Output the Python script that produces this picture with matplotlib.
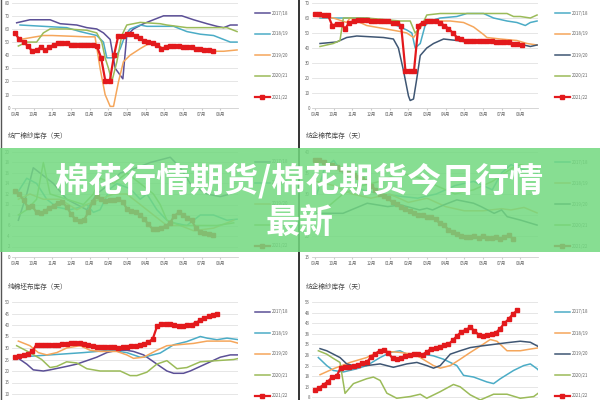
import matplotlib
matplotlib.use('Agg')
import matplotlib.pyplot as plt
import numpy as np
from matplotlib.patches import Rectangle

plt.rcParams['font.family'] = ['Noto Sans CJK SC', 'DejaVu Sans']

# ---- labels ----
months = ['09月', '10月', '11月', '12月', '01月', '02月', '03月', '04月', '05月', '06月', '07月', '08月']
seasons = ['2017/18', '2018/19', '2019/20', '2020/21', '2021/22']
title_ml = '纺厂棉纱库存（天）'
title_mr = '纺企棉花库存（天）'
title_bl = '纯棉坯布库存（天）'
title_br = '纺企棉纱库存（天）'
banner_line1 = '棉花行情期货/棉花期货今日行情'
banner_line2 = '最新'

# red series (2021/22) are weekly values; x step in months
week_step = 12 / 52

# ---- top left panel (0-80) ----
tl_1718_m = [0.09, 0.8, 1.88, 2.42, 3.31, 3.85, 4.38, 4.74, 5.1, 5.37, 5.78, 5.99, 6.35, 6.89, 7.42, 7.96, 8.94, 9.57, 10.29, 10.82, 11.18, 11.54, 11.9]
tl_1718_v = [64.7, 67, 67, 64, 63, 61, 60, 57, 52, 30, 22, 55, 60, 64, 67, 70, 70, 67, 64, 62, 61, 63, 63]
tl_1819_m = [0.27, 1.52, 2.77, 3.49, 4.38, 4.74, 4.92, 5.37, 5.64, 5.9, 6.17, 6.71, 7.07, 8.5, 9.21, 9.93, 10.64, 11.18, 11.54, 11.9]
tl_1819_v = [63, 62, 61, 58, 55, 50, 38, 38, 45, 55, 60, 63, 62, 62, 58, 56, 55, 52, 50, 50]
tl_1920_m = [0.27, 1.52, 2.0, 3.85, 4.29, 4.56, 4.83, 5.1, 5.28, 5.55, 5.81, 6.17, 6.71, 7.07, 7.42, 7.96, 8.14, 9.21, 9.93, 10.64, 11.18, 11.9]
tl_1920_v = [52, 55, 55, 54, 54, 30, 10, 1, 1, 20, 35, 40, 45, 48, 50, 45, 47, 47, 45, 43, 43, 44]
tl_2021_m = [0.18, 0.63, 1.16, 1.52, 1.88, 2.77, 3.85, 4.38, 4.65, 4.83, 5.01, 5.19, 5.46, 5.72, 5.99, 6.71, 7.78, 8.14, 8.68, 9.21, 10.29, 11.36, 11.9]
tl_2021_v = [47, 50, 50, 57, 60, 60, 59, 57, 50, 38, 30, 20, 35, 55, 63, 65, 64, 63, 62, 61, 61, 61, 58]
tl_2122 = [57, 52, 50, 47, 43, 44, 46, 44, 46, 48, 49, 49, 49, 48, 48, 48, 48, 48, 48, 47, 38, 20, 20, 40,
           55, 55, 56, 56, 55, 53, 51, 50, 49, 48, 45, 46, 47, 47, 47, 46, 46, 46, 45, 45, 44, 44, 43]

# ---- top right panel (0-70) ----
tr_1718_m = [0.27, 2.77, 3.67, 4.38, 4.92, 5.19, 5.37, 5.64, 5.9, 6.17, 6.71, 7.6, 8.14, 9.03, 9.57, 10.29, 10.82, 11.27, 11.54, 11.9]
tr_1718_v = [60, 60, 58, 55, 52, 50, 40, 43, 55, 58, 60, 61, 63, 63, 60, 58, 57, 55, 57, 58]
tr_1819_m = [0.18, 0.98, 1.7, 1.88, 2.77, 3.67, 4.56, 4.92, 5.28, 5.46, 5.72, 5.99, 7.25, 7.96, 8.5, 9.03, 9.21, 9.93, 10.82, 11.36, 11.9]
tr_1819_v = [61, 60, 57, 60, 55, 53, 51, 50, 47, 50, 55, 58, 58, 57, 54, 49, 47, 46, 45, 43, 42]
tr_1920_m = [0.27, 1.16, 1.7, 2.24, 3.67, 4.2, 4.47, 4.74, 5.01, 5.1, 5.28, 5.46, 5.64, 5.99, 6.35, 6.89, 7.6, 8.14, 8.86, 9.93, 10.64, 11.18, 11.54, 11.9]
tr_1920_v = [43, 44, 47, 48, 47, 46, 40, 25, 8, 5, 6, 20, 35, 40, 43, 46, 45, 44, 45, 44, 43, 42, 41, 42]
tr_2021_m = [0.27, 0.98, 1.34, 1.52, 2.77, 3.67, 4.56, 5.1, 5.37, 5.72, 5.99, 6.71, 10.29, 10.64, 11.0, 11.54, 11.9]
tr_2021_v = [41, 43, 45, 60, 60, 59, 58, 58, 50, 55, 62, 63, 63, 61, 61, 60, 62]
tr_2122 = [63, 63, 62, 62, 55, 56, 56, 53, 57, 58, 59, 59, 59, 58, 58, 58, 58, 58, 57, 57, 55, 25, 25, 25,
           55, 57, 58, 58, 58, 57, 55, 53, 50, 47, 46, 45, 45, 45, 45, 45, 45, 45, 44, 44, 44, 44, 43, 43, 42]

# ---- middle left panel (0-20) ----
ml_1718_m = [0.18, 0.63, 0.98, 1.52, 2.06, 2.77, 3.31, 3.85, 4.38, 5.1, 5.64, 6.53, 7.25, 8.32, 8.86, 9.39, 10.29, 11.0, 11.54]
ml_1718_v = [7, 12, 17, 15.5, 14, 11, 10, 9, 12, 14, 16, 17, 18, 19, 17, 14, 12, 11.5, 12]
ml_1819_m = [0.18, 0.63, 1.16, 1.7, 2.24, 2.95, 3.49, 3.85, 4.2, 4.56, 5.1, 5.46, 6.17, 6.71, 7.07, 7.6, 8.14, 8.5, 9.21, 9.93, 10.64, 11.36, 11.9]
ml_1819_v = [12.5, 15, 14, 11, 9.5, 9, 9.5, 10, 8.5, 9, 13, 14, 13, 11, 12, 9, 7, 6.5, 6, 8, 8, 7, 7.2]
ml_1920_m = [0.18, 0.8, 1.52, 2.42, 3.31, 3.85, 4.56, 5.28, 5.99, 6.71, 7.42, 8.14, 8.86, 9.57, 10.64, 11.72]
ml_1920_v = [11, 12, 11, 11, 9, 10, 11, 12, 12, 10, 8, 6, 6, 5, 5.5, 7]
ml_2021_m = [0.18, 0.63, 1.16, 1.52, 1.88, 2.77, 3.67, 4.2, 4.56, 5.28, 5.99, 6.71, 7.42, 7.78, 8.14, 8.86, 9.93, 10.82, 11.72]
ml_2021_v = [8, 9, 11, 18, 12, 11, 10, 12, 15, 14, 16, 14, 12, 10, 7, 6, 6, 6, 6.5]
ml_2122 = [12.5, 12, 10.8, 9.5, 9.7, 8.5, 8.3, 8.8, 9.3, 9.8, 10.3, 10.4, 9.6, 8.2, 7.2, 6.8, 7.0, 8.5, 10.5, 11.6,
           11.0, 10.7, 10.8, 10.9, 11.0, 10.5, 9.2, 8.8, 8.6, 8.0, 7.2, 6.2, 5.3, 5.4, 5.6, 5.9, 6.5, 7.8, 8.5,
           8.0, 7.5, 7.0, 5.5, 4.8, 4.6, 4.3, 4.2]

# ---- middle right panel (15-40) ----
mr_1718_m = [0.1, 0.5, 1.0, 1.5, 2.5, 3.5, 4.5, 5.5, 6.5, 7.5, 8.5, 9.5, 10.0, 10.5, 11.0, 11.9]
mr_1718_v = [30, 36, 38, 35, 31, 30, 29.5, 29, 30, 32, 33, 31, 35, 37, 36, 35]
mr_1819_m = [0.1, 1, 2, 3, 4, 5, 6, 7, 8, 9, 10, 10.5, 11.2, 11.9]
mr_1819_v = [33, 32, 30, 29, 30, 28, 29, 27, 26, 26, 26.5, 26.2, 26.8, 25.5]
mr_1920_m = [0.1, 1.5, 2.8, 3.9, 4.6, 5.6, 6.0, 6.3, 6.9, 7.6, 8.5, 8.9, 9.6, 10.0, 10.3, 11.0, 11.9]
mr_1920_v = [25.4, 25.4, 27.8, 27, 27.4, 26.2, 26.6, 26.2, 27.4, 28.6, 27.8, 27, 25.4, 26.2, 24.6, 23.8, 22.6]
mr_2021_m = [0.1, 0.7, 1.5, 2.5, 3.5, 4.5, 5.5, 6.5, 7.5, 8.5, 9.5, 10.5, 11.0, 11.9]
mr_2021_v = [26, 27, 30, 32, 33, 35, 34, 32, 30, 31, 33, 36, 37, 36]
mr_2122 = [38, 38, 37.5, 37, 37, 36.5, 36, 35.5, 35, 34.5, 34, 33.5, 33, 32, 31, 30, 29.5, 29, 28, 27.5,
           27, 26.5, 26, 25.5, 25, 25, 24.5, 24.5, 24, 23, 22.5, 21.5, 21, 20.5, 20, 19.8, 19.8, 20, 19.5,
           20, 19.5, 19.5, 19.8, 19.2, 19.8, 20.2, 19.3]

# ---- bottom left panel (5-50) ----
bl_1718_m = [0.09, 0.63, 0.98, 1.52, 1.88, 2.77, 3.31, 3.85, 4.38, 4.92, 5.46, 5.99, 6.35, 6.89, 7.25, 7.78, 8.14, 8.5, 9.03, 9.39, 9.93, 10.47, 11.0, 11.54, 12.0]
bl_1718_v = [26, 23, 20.5, 20, 20.5, 22, 23, 24.5, 26, 28, 29, 29, 28.5, 27, 25, 22, 20, 19, 19, 20, 22, 24, 26, 27, 27]
bl_1819_m = [0.09, 1.88, 3.67, 5.1, 5.99, 6.71, 6.89, 7.78, 8.5, 9.21, 9.93, 10.29, 10.82, 11.36, 12.0]
bl_1819_v = [26, 27, 28, 29, 28, 26, 26, 27.8, 31.4, 32.8, 35, 34.3, 33.6, 34.3, 33.6]
bl_1920_m = [0.18, 0.8, 1.25, 1.7, 2.24, 2.77, 3.49, 4.03, 4.56, 5.46, 5.99, 6.35, 6.89, 7.6, 8.14, 8.86, 9.57, 10.29, 11.54, 12.0]
bl_1920_v = [33, 31, 28, 27, 28, 30, 31, 29, 28.5, 28.5, 27, 25.5, 26, 29, 31, 31.5, 32, 33, 33, 32]
bl_2021_m = [0.09, 0.8, 1.43, 1.88, 2.24, 2.77, 3.31, 3.85, 4.56, 5.64, 6.17, 6.53, 7.07, 7.6, 8.14, 8.68, 9.21, 9.93, 10.82, 11.72, 12.0]
bl_2021_v = [31, 28, 25, 21.5, 22, 24, 23.5, 21, 20, 20, 18, 18, 19.5, 23, 24.5, 21, 21.5, 24, 24.5, 25, 25.5]
bl_2122 = [26, 26.5, 27, 27.5, 28.5, 31.5, 31.5, 31.3, 31.5, 31.5, 31.5, 31.8, 31.8, 32, 32, 32.2, 31.8, 31.2,
           30.8, 30.5, 30.5, 30.6, 30.5, 30.3, 30.2, 30.4, 30.5, 30.8, 31, 31.3, 31.8, 32.5, 34, 39.5, 40.3,
           40.5, 40.3, 39.8, 39.5, 39.6, 40, 40.2, 41, 42, 43, 43.8, 44.5, 45]

# ---- bottom right panel (3-53) ----
br_1718_m = [0.18, 0.63, 0.98, 1.52, 2.24, 2.77, 3.49, 4.03, 4.56, 5.1, 5.81, 6.35, 6.89, 7.6, 7.96, 8.5, 9.21, 9.57, 9.93, 10.64, 11.18, 11.54, 11.9, 12.07]
br_1718_v = [26.8, 23, 20.7, 20, 21.5, 23, 26.8, 29.2, 30, 27.6, 28.4, 27.6, 26, 23, 18.4, 17.6, 15.3, 14.5, 16.8, 20.7, 23, 23.8, 21.5, 20]
br_1819_m = [0.27, 0.98, 1.88, 2.77, 3.49, 4.56, 5.28, 5.64, 6.35, 6.71, 7.25, 7.78, 8.32, 8.86, 9.39, 9.75, 10.29, 11.0, 11.54, 12.07]
br_1819_v = [18.7, 21.5, 24.5, 26.8, 30, 29.2, 28.4, 26.8, 23, 21.8, 23, 26, 29.2, 32.2, 35.3, 34.5, 30, 30, 30.8, 31.5]
br_1920_m = [0.27, 0.63, 1.34, 1.7, 2.06, 2.77, 3.49, 4.2, 4.92, 5.46, 5.99, 6.35, 6.71, 7.25, 7.78, 8.32, 8.86, 9.57, 10.29, 11.0, 11.54, 12.07]
br_1920_v = [31, 30, 26.8, 23.8, 23, 23, 23.8, 22.2, 23.8, 24.5, 23, 21.8, 23, 28.4, 30, 31.5, 32.2, 33, 33.8, 34.5, 34, 31.5]
br_2021_m = [0.18, 0.63, 0.98, 1.34, 1.61, 2.06, 2.77, 3.13, 3.49, 3.85, 4.38, 5.1, 5.64, 5.99, 6.71, 7.42, 7.78, 8.32, 8.86, 9.57, 10.29, 11.0, 11.72, 12.07]
br_2021_v = [30, 28.4, 26.4, 24.5, 9.9, 14.5, 16.8, 17.6, 16, 10, 7.6, 8.4, 9.5, 7.6, 10.7, 14.1, 13, 9.2, 6.8, 9.5, 9.5, 7.6, 8.4, 10.7]
br_2122 = [11.5, 12.5, 14, 15.5, 17.5, 18, 22, 22.2, 22.5, 23, 23.5, 24, 24.5, 27, 28.5, 30, 30.5, 29, 26.5,
           26, 26.5, 27.5, 28.2, 28.5, 28.3, 28.2, 29.5, 31, 31.3, 31.8, 32.5, 33, 35, 37, 39, 39.8, 41,
           39.5, 37.5, 36.8, 37.3, 37.8, 38.5, 40.5, 43, 45, 47.5, 49]

colors_left = ['#5b4f96', '#4bacc6', '#f5a65b', '#9bbb59', '#e3191c']
colors_right = ['#4bacc6', '#f5a65b', '#3f5673', '#9bbb59', '#e3191c']

W, H = 600, 400
fig = plt.figure(figsize=(6, 4), dpi=100)
fig.patch.set_facecolor('white')


def px_rect(x0, y0, x1, y1):
    return [x0 / W, 1 - y1 / H, (x1 - x0) / W, (y1 - y0) / H]


def panel(x0, y0, y1, ylim, yticks, lines, red, colors, leg_y, show_months=True):
    ax = fig.add_axes(px_rect(x0 + 12, y0, x0 + 238, y1))
    for (m, v), c, lab in zip(lines, colors[:4], seasons[:4]):
        ax.plot(m, v, color=c, lw=1.1, label=lab)
    wx = np.arange(len(red)) * week_step
    ax.plot(wx, red, color=colors[4], lw=1.6, marker='s', ms=2.4, label=seasons[4])
    ax.set_xlim(-0.16, 11.95)
    ax.set_ylim(*ylim)
    ax.set_yticks(yticks)
    ax.set_xticks(np.arange(12))
    ax.set_xticklabels(months if show_months else [])
    ax.tick_params(labelsize=3.2, colors='#666666', length=0, pad=1.5)
    ax.tick_params(axis='x', length=1.2, color='#cccccc', pad=2)
    ax.yaxis.grid(True, color='#e2e2e2', lw=0.6)
    ax.set_axisbelow(True)
    for s in ['top', 'right', 'left']:
        ax.spines[s].set_visible(False)
    ax.spines['bottom'].set_color('#cfcfcf')
    ax.spines['bottom'].set_linewidth(0.6)
    ax.legend(loc='upper left', bbox_to_anchor=((x0 + 255) / W, 1 - leg_y / H),
              bbox_transform=fig.transFigure, frameon=False, fontsize=3.2,
              handlelength=3.3, handletextpad=0.4, labelspacing=3.6,
              borderpad=0, borderaxespad=0, labelcolor='#666666')
    return ax


panel(0, 2.7, 107.7, (0, 80), np.arange(0, 81, 10),
      [(tl_1718_m, tl_1718_v), (tl_1819_m, tl_1819_v), (tl_1920_m, tl_1920_v), (tl_2021_m, tl_2021_v)],
      tl_2122, colors_left, 10.5)
panel(300, 3, 108, (0, 70), np.arange(0, 71, 10),
      [(tr_1718_m, tr_1718_v), (tr_1819_m, tr_1819_v), (tr_1920_m, tr_1920_v), (tr_2021_m, tr_2021_v)],
      tr_2122, colors_right, 10.5)
panel(0, 152, 257, (0, 20), np.arange(0, 21, 2),
      [(ml_1718_m, ml_1718_v), (ml_1819_m, ml_1819_v), (ml_1920_m, ml_1920_v), (ml_2021_m, ml_2021_v)],
      ml_2122, colors_left, 159.5)
panel(300, 152, 257, (15, 40), np.arange(15, 41, 5),
      [(mr_1718_m, mr_1718_v), (mr_1819_m, mr_1819_v), (mr_1920_m, mr_1920_v), (mr_2021_m, mr_2021_v)],
      mr_2122, colors_right, 160)
# bottom panels run past the lower edge of the picture: month labels fall outside it
panel(0, 302, 405.5, (5, 50), np.arange(10, 51, 5),
      [(bl_1718_m, bl_1718_v), (bl_1819_m, bl_1819_v), (bl_1920_m, bl_1920_v), (bl_2021_m, bl_2021_v)],
      bl_2122, colors_left, 309.5, show_months=False)
panel(300, 302, 408, (3, 53), np.arange(8, 54, 5),
      [(br_1718_m, br_1718_v), (br_1819_m, br_1819_v), (br_1920_m, br_1920_v), (br_2021_m, br_2021_v)],
      br_2122, colors_right, 309.5, show_months=False)

# overlay: titles, separators, banner
ov = fig.add_axes([0, 0, 1, 1], zorder=10)
ov.set_xlim(0, W)
ov.set_ylim(H, 0)
ov.axis('off')
ov.patch.set_alpha(0)

for x, y, t in [(8, 136, title_ml), (306, 136, title_mr), (8, 287, title_bl), (306, 287, title_br)]:
    ov.text(x, y, t, fontsize=4.8, color='#444444', va='center', ha='left')

ov.plot([299, 299], [0, H], color='#333333', lw=1.4, zorder=1)
ov.plot([0.6, 0.6], [0, H], color='#555555', lw=1.0, zorder=1)

ov.add_patch(Rectangle((0, 148), W, 104, facecolor=(0.45, 0.85, 0.5), alpha=0.86,
                       edgecolor='none', zorder=2))
ov.text(300, 181, banner_line1, fontsize=24.5, fontweight='bold', color='white',
        ha='center', va='center', zorder=3)
ov.text(300, 222, banner_line2, fontsize=24.5, fontweight='bold', color='white',
        ha='center', va='center', zorder=3)

fig.savefig('out.png', dpi=100)
